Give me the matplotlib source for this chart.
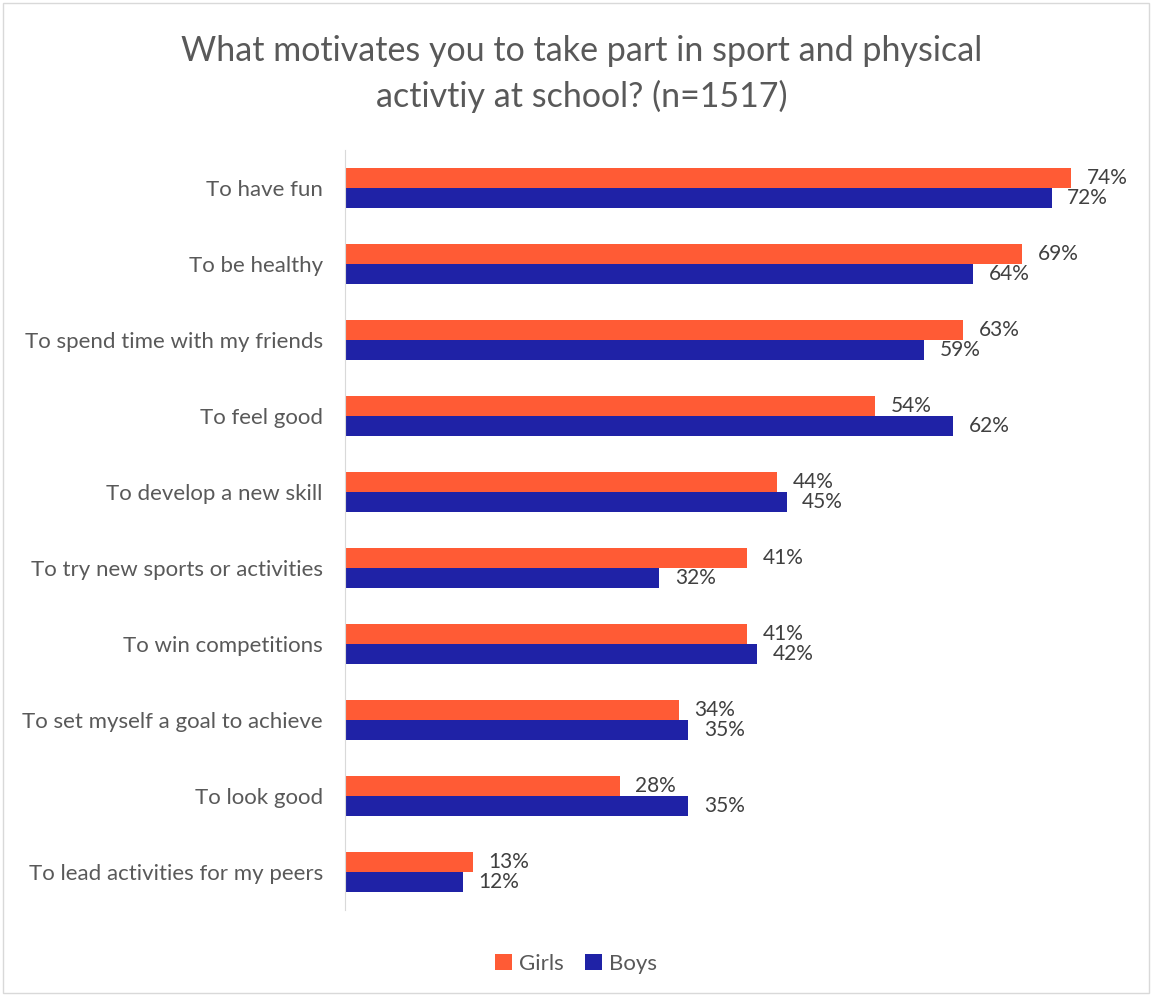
import matplotlib.pyplot as plt
import numpy as np

plt.rcParams['font.family'] = ['Lato', 'DejaVu Sans']

categories = ['To have fun', 'To be healthy', 'To spend time with my friends',
              'To feel good', 'To develop a new skill',
              'To try new sports or activities', 'To win competitions',
              'To set myself a goal to achieve', 'To look good',
              'To lead activities for my peers']
girls = [74, 69, 63, 54, 44, 41, 41, 34, 28, 13]
boys = [72, 64, 59, 62, 45, 32, 42, 35, 35, 12]

girls_color = '#FF5B35'
boys_color = '#1F22A6'
text_color = '#595959'

fig = plt.figure(figsize=(11.52, 9.96), dpi=100)
fig.patches.append(plt.Rectangle((0.003, 0.003), 0.994, 0.994, transform=fig.transFigure,
                                 fill=False, edgecolor='#D9D9D9', linewidth=1))
ax = fig.add_axes([345 / 1152, 1 - 910 / 996, (1130 - 345) / 1152, 760 / 996])

y = np.arange(len(categories))
h = 0.263
ax.barh(y - h / 2, girls, height=h, color=girls_color, label='Girls')
ax.barh(y + h / 2, boys, height=h, color=boys_color, label='Boys')

for i in range(len(categories)):
    ax.text(girls[i] + 1.6, y[i] - h / 2, f'{girls[i]}%', va='center', ha='left',
            fontsize=15, color='#404040')
    ax.text(boys[i] + 1.6, y[i] + h / 2, f'{boys[i]}%', va='center', ha='left',
            fontsize=15, color='#404040')

ax.set_ylim(len(categories) - 0.5, -0.5)
ax.set_xlim(0, 80)
ax.set_yticks(y)
ax.set_yticklabels(categories, fontsize=16, color=text_color)
ax.tick_params(axis='y', length=0, pad=16)
ax.set_xticks([])
for s in ['top', 'right', 'bottom']:
    ax.spines[s].set_visible(False)
ax.spines['left'].set_color('#D9D9D9')

fig.text(0.505, 1 - 74 / 996, 'What motivates you to take part in sport and physical\nactivtiy at school? (n=1517)',
         ha='center', va='center', fontsize=24.5, color=text_color, linespacing=1.5)

fig.legend(loc='center', bbox_to_anchor=(0.5, 1 - 964 / 996), ncol=2, frameon=False,
           fontsize=16, labelcolor=text_color, handlelength=0.75, handleheight=0.75,
           handletextpad=0.3, columnspacing=1.0)

fig.savefig('out.png', dpi=100)
